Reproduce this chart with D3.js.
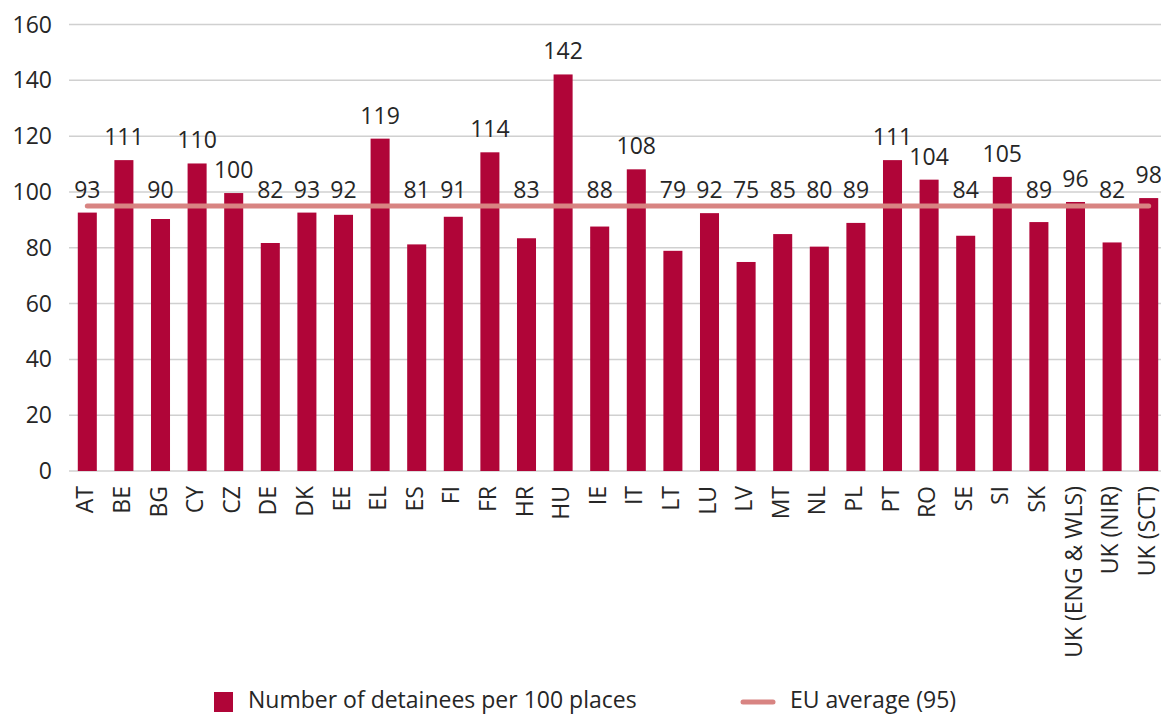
<!DOCTYPE html>
<meta charset="utf-8">
<style>
body { margin: 0; background: #fff; }
text { font-family: "Open Sans", sans-serif; fill: #262626; font-size: 23px; }
</style>
<body>
<script src="https://d3js.org/d3.v7.min.js"></script>
<script>

var countries = ["AT","BE","BG","CY","CZ","DE","DK","EE","EL","ES","FI","FR","HR","HU","IE","IT",
  "LT","LU","LV","MT","NL","PL","PT","RO","SE","SI","SK","UK (ENG & WLS)","UK (NIR)","UK (SCT)"];
var detainees = [92.6,111.4,90.3,110.2,99.6,81.7,92.6,91.8,119.1,81.2,91.1,114.2,83.4,142.1,87.6,108.1,
  78.9,92.4,74.9,84.9,80.4,88.9,111.4,104.4,84.3,105.4,89.2,96.4,81.9,97.8];
var euAverage = 95;
var yTicks = [0,20,40,60,80,100,120,140,160];

var width = 1161,
    height = 715;

var fmt = d3.format(".0f");

var svg = d3.select("body").append("svg")
    .attr("width", width)
    .attr("height", height);

var x = d3.scaleBand()
    .domain(countries)
    .range([69, 1167])
    .paddingInner(0.48)
    .paddingOuter(0.24);

var y = d3.scaleLinear()
    .domain([0, 160])
    .range([471, 24.5]);

// gridlines
svg.append("g").selectAll("line")
    .data(yTicks)
  .enter().append("line")
    .attr("x1", 69)
    .attr("x2", width)
    .attr("y1", function(d) { return y(d); })
    .attr("y2", function(d) { return y(d); })
    .attr("stroke", "#d0d0d0")
    .attr("stroke-width", 1.5);

// y tick labels
svg.append("g").selectAll("text")
    .data(yTicks)
  .enter().append("text")
    .attr("x", 52)
    .attr("y", function(d) { return y(d); })
    .attr("dy", "0.35em")
    .attr("text-anchor", "end")
    .text(function(d) { return d; });

// bars
svg.append("g").selectAll("rect")
    .data(detainees)
  .enter().append("rect")
    .attr("x", function(d, i) { return x(countries[i]); })
    .attr("width", x.bandwidth())
    .attr("y", function(d) { return y(d); })
    .attr("height", function(d) { return y(0) - y(d); })
    .attr("fill", "#b00538");

// EU average line
svg.append("line")
    .attr("x1", x(countries[0]) + x.bandwidth() / 2)
    .attr("x2", x(countries[countries.length - 1]) + x.bandwidth() / 2)
    .attr("y1", y(euAverage))
    .attr("y2", y(euAverage))
    .attr("stroke", "#d88482")
    .attr("stroke-width", 5)
    .attr("stroke-linecap", "round");

// value labels (bars under the average get their label set above the line)
svg.append("g").selectAll("text")
    .data(detainees)
  .enter().append("text")
    .attr("x", function(d, i) { return x(countries[i]) + x.bandwidth() / 2; })
    .attr("y", function(d) { return d >= euAverage ? y(d) - 15 : y(euAverage) - 8; })
    .attr("text-anchor", "middle")
    .text(function(d) { return fmt(d); });

// category labels
svg.append("g").selectAll("text")
    .data(countries)
  .enter().append("text")
    .attr("transform", function(d) {
      return "translate(" + (x(d) + x.bandwidth() / 2 - 2) + ",486) rotate(-90)";
    })
    .attr("dy", "0.35em")
    .attr("text-anchor", "end")
    .text(function(d) { return d; });

// legend
var legend = svg.append("g");
legend.append("rect")
    .attr("x", 214).attr("y", 692)
    .attr("width", 19).attr("height", 20)
    .attr("fill", "#b00538");
legend.append("text")
    .attr("x", 248).attr("y", 700)
    .attr("dy", "0.35em")
    .text("Number of detainees per 100 places");
legend.append("line")
    .attr("x1", 743).attr("x2", 773)
    .attr("y1", 702).attr("y2", 702)
    .attr("stroke", "#d88482")
    .attr("stroke-width", 5)
    .attr("stroke-linecap", "round");
legend.append("text")
    .attr("x", 790).attr("y", 700)
    .attr("dy", "0.35em")
    .text("EU average (95)");

</script>
